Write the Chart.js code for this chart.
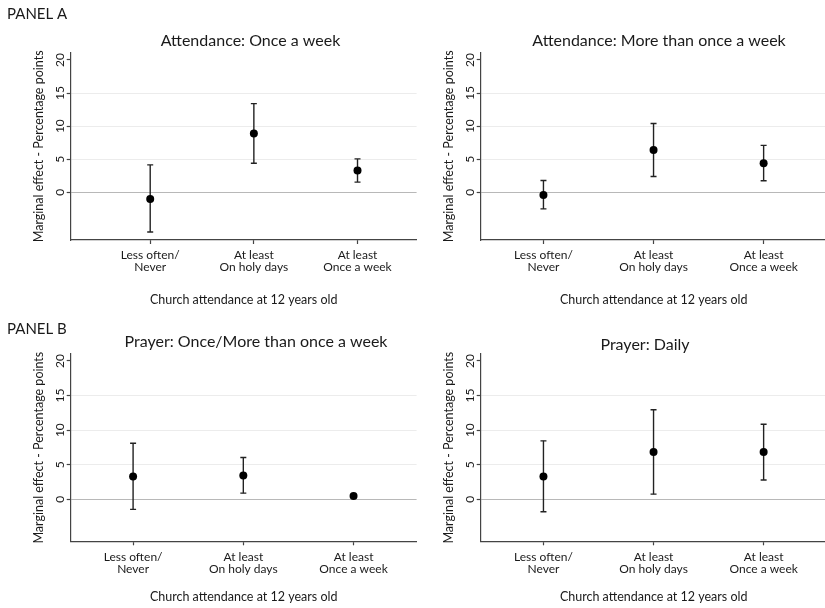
<!DOCTYPE html>
<html>
<head>
<meta charset="utf-8">
<script src="https://cdn.jsdelivr.net/npm/chart.js@4/dist/chart.umd.min.js"></script>
<style>
    html, body { margin: 0; padding: 0; background: #fff; width: 825px; height: 608px; overflow: hidden; position: relative; }
    .panel { position: absolute; }
</style>
</head>
<body>
<div class="panel" style="left:0;top:0;width:422px;height:310px"><canvas id="attendOnceChart"></canvas></div>
<div class="panel" style="left:410px;top:0;width:422px;height:310px"><canvas id="attendMoreChart"></canvas></div>
<div class="panel" style="left:0;top:305px;width:422px;height:303px"><canvas id="prayerWeekChart"></canvas></div>
<div class="panel" style="left:410px;top:305px;width:422px;height:303px"><canvas id="prayerDailyChart"></canvas></div>
<script>
// categories on the x axis (church attendance at 12)
const categories = [['Less often/', 'Never'], ['At least', 'On holy days'], ['At least', 'Once a week']];
const yTicks = [0, 5, 10, 15, 20];

// Panel A - attendance once a week
const attendOnceEst = [-1.0, 8.9, 3.3];
const attendOnceLo = [-6.0, 4.4, 1.55];
const attendOnceHi = [4.15, 13.4, 5.05];

// Panel A - attendance more than once a week
const attendMoreEst = [-0.4, 6.4, 4.4];
const attendMoreLo = [-2.5, 2.4, 1.75];
const attendMoreHi = [1.8, 10.4, 7.1];

// Panel B - prayer once / more than once a week
const prayerWeekEst = [3.3, 3.45, 0.5];
const prayerWeekLo = [-1.45, 0.9, 0.35];
const prayerWeekHi = [8.1, 6.05, 0.65];

// Panel B - prayer daily
const prayerDailyEst = [3.3, 6.85, 6.85];
const prayerDailyLo = [-1.8, 0.75, 2.8];
const prayerDailyHi = [8.45, 12.95, 10.85];

const FONT = 'Lato, "Liberation Sans", sans-serif';
const INK = '#1a1a1a';
const AXIS = '#444';

Chart.defaults.font.family = FONT;
Chart.defaults.color = INK;

// draws panel title, panel letter and the rotated y tick labels
const panelText = {
    id: 'panelText',
    afterDraw(chart, args, opts) {
        const ctx = chart.ctx;
        const yScale = chart.scales.y;
        ctx.save();
        ctx.fillStyle = INK;
        ctx.textBaseline = 'middle';
        ctx.textAlign = 'center';
        ctx.font = '16px ' + FONT;
        ctx.fillText(opts.title, opts.titleX, opts.titleY);
        if (opts.panel) {
            ctx.textAlign = 'left';
            ctx.font = '15px ' + FONT;
            ctx.fillText(opts.panel, opts.panelX, opts.panelY);
        }
        ctx.textAlign = 'center';
        ctx.font = '12px ' + FONT;
        yTicks.forEach(function (v) {
            ctx.save();
            ctx.translate(yScale.right - 11, yScale.getPixelForValue(v));
            ctx.rotate(-Math.PI / 2);
            ctx.fillText(String(v), 0, 0);
            ctx.restore();
        });
        ctx.restore();
    }
};

function makePanel(id, est, lo, hi, o) {
    const ctx = document.getElementById(id).getContext('2d');
    const xs = est.map(function (v, i) { return i + 1; });
    // whiskers: lo -> hi for each category, broken by a null point
    const whiskers = [];
    xs.forEach(function (x, i) {
        whiskers.push({ x: x, y: lo[i] }, { x: x, y: hi[i] }, { x: x, y: null });
    });
    return new Chart(ctx, {
        type: 'scatter',
        data: {
            datasets: [{
                type: 'line',
                data: whiskers,
                borderColor: '#222',
                borderWidth: 1.4,
                pointRadius: 0,
                spanGaps: false,
                fill: false,
                order: 3
            }, {
                data: xs.map(function (x, i) { return { x: x, y: lo[i] }; })
                    .concat(xs.map(function (x, i) { return { x: x, y: hi[i] }; })),
                pointStyle: 'line',
                radius: 3,
                borderColor: '#222',
                borderWidth: 1.4,
                order: 2
            }, {
                data: xs.map(function (x, i) { return { x: x, y: est[i] }; }),
                pointStyle: 'circle',
                radius: 4,
                backgroundColor: '#000',
                borderColor: '#000',
                borderWidth: 0,
                order: 1
            }]
        },
        options: {
            responsive: true,
            maintainAspectRatio: false,
            animation: false,
            events: [],
            layout: { padding: { left: 0, top: o.padTop, right: 2, bottom: 0 } },
            scales: {
                x: {
                    type: 'linear',
                    min: o.xMin,
                    max: o.xMax,
                    afterBuildTicks: function (s) { s.ticks = xs.map(function (v) { return { value: v }; }); },
                    afterFit: function (s) { s.height = o.xHeight; },
                    ticks: {
                        callback: function (v) { return categories[v - 1]; },
                        font: { size: 12, lineHeight: 1.0 },
                        padding: 5.5,
                        maxRotation: 0,
                        autoSkip: false
                    },
                    grid: { drawOnChartArea: false, tickLength: 4, tickColor: AXIS, tickWidth: 1.2 },
                    border: { color: AXIS, width: 1.2 },
                    title: {
                        display: true,
                        text: 'Church attendance at 12 years old',
                        font: { size: 12.5 },
                        padding: { top: 0, bottom: o.xTitlePad }
                    }
                },
                y: {
                    type: 'linear',
                    min: o.yMin,
                    max: o.yMax,
                    afterBuildTicks: function (s) { s.ticks = yTicks.map(function (v) { return { value: v }; }); },
                    afterFit: function (s) { s.width = 70.7; },
                    ticks: { display: false },
                    grid: {
                        color: function (c) {
                            if (c.tick.value === 0) return '#b8b8b8';
                            if (c.tick.value === 20) return 'rgba(0,0,0,0)';
                            return '#ececec';
                        },
                        lineWidth: 1,
                        tickLength: 4,
                        tickColor: AXIS,
                        tickWidth: 1.2
                    },
                    border: { color: AXIS, width: 1.2 },
                    title: {
                        display: true,
                        text: 'Marginal effect - Percentage points',
                        font: { size: 12.5 },
                        padding: { top: 31.3, bottom: 0 }
                    }
                }
            },
            plugins: {
                legend: { display: false },
                tooltip: { enabled: false },
                panelText: o.text
            }
        },
        plugins: [panelText]
    });
}

document.addEventListener('DOMContentLoaded', function () {
    makePanel('attendOnceChart', attendOnceEst, attendOnceLo, attendOnceHi, {
        padTop: 52.7, xHeight: 70, xTitlePad: 2.7,
        xMin: 0.233, xMax: 3.57, yMin: -7.2, yMax: 21.1,
        text: { title: 'Attendance: Once a week', titleX: 250.5, titleY: 41, panel: 'PANEL A', panelX: 7, panelY: 14 }
    });
    makePanel('attendMoreChart', attendMoreEst, attendMoreLo, attendMoreHi, {
        padTop: 52.7, xHeight: 70, xTitlePad: 2.7,
        xMin: 0.43, xMax: 3.572, yMin: -7.2, yMax: 21.1,
        text: { title: 'Attendance: More than once a week', titleX: 249, titleY: 41 }
    });
    makePanel('prayerWeekChart', prayerWeekEst, prayerWeekLo, prayerWeekHi, {
        padTop: 49, xHeight: 66.7, xTitlePad: 3.7,
        xMin: 0.434, xMax: 3.572, yMin: -6.06, yMax: 21.0,
        text: { title: 'Prayer: Once/More than once a week', titleX: 256, titleY: 37, panel: 'PANEL B', panelX: 7, panelY: 24 }
    });
    makePanel('prayerDailyChart', prayerDailyEst, prayerDailyLo, prayerDailyHi, {
        padTop: 49, xHeight: 66.7, xTitlePad: 3.7,
        xMin: 0.43, xMax: 3.572, yMin: -6.06, yMax: 21.0,
        text: { title: 'Prayer: Daily', titleX: 235, titleY: 40 }
    });
});
</script>
</body>
</html>
